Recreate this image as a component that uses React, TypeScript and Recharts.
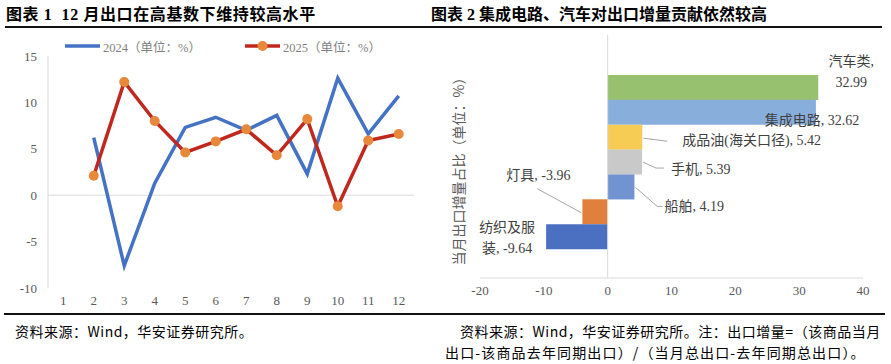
import React from 'react'
import {
  Bar,
  BarChart,
  Cell,
  LabelList,
  Line,
  LineChart,
  ReferenceLine,
  XAxis,
  YAxis,
} from 'recharts'

// left chart: monthly export growth, % yoy
const MONTHS = ['1', '2', '3', '4', '5', '6', '7', '8', '9', '10', '11', '12']
const EXPORT_2024 = [null, 6.2, -7.6, 1.3, 7.3, 8.4, 7.0, 8.6, 2.3, 12.6, 6.6, 10.7]
const EXPORT_2025 = [null, 2.1, 12.2, 8.0, 4.6, 5.8, 7.1, 4.3, 8.2, -1.2, 5.9, 6.6]
const LEFT_TICKS = [-10, -5, 0, 5, 10, 15]

// right chart: contribution to export increment, %
const GOODS = ['汽车类', '集成电路', '成品油(海关口径)', '手机', '船舶', '灯具', '纺织及服装']
const CONTRIB = [32.99, 32.62, 5.42, 5.39, 4.19, -3.96, -9.64]
const RIGHT_TICKS = [-20, -10, 0, 10, 20, 30, 40]

const GOODS_COLORS = ['#97c16f', '#88aedb', '#f6cc55', '#c9c9c9', '#7293d1', '#e0803c', '#4b6fc1']

const lineData = MONTHS.map((m, i) => ({ month: m, y2024: EXPORT_2024[i], y2025: EXPORT_2025[i] }))
const barData = GOODS.map((g, i) => ({ name: g, value: CONTRIB[i] }))

const SERIF = "'Liberation Serif', 'Noto Sans CJK SC', serif"
const CJK = "'Noto Sans CJK SC', sans-serif"
const AXIS_GREY = '#d9d9d9'
const TICK_TEXT = { fill: '#595959', fontSize: 13, fontFamily: SERIF }

// label placement relative to bar end (ex) and bar middle (cy)
type LabelSpec = {
  anchor: 'start' | 'middle' | 'end'
  dx: number
  lines: { dy: number; text: (name: string, v: string) => string }[]
  leader?: [number, number][]
}
const LABEL_SPECS: Record<string, LabelSpec> = {
  汽车类: {
    anchor: 'middle',
    dx: 33,
    lines: [
      { dy: -26, text: (n) => `${n},` },
      { dy: -5, text: (_n, v) => v },
    ],
  },
  集成电路: { anchor: 'middle', dx: -4, lines: [{ dy: 8, text: (n, v) => `${n}, ${v}` }] },
  '成品油(海关口径)': {
    anchor: 'start',
    dx: 40,
    lines: [{ dy: 3, text: (n, v) => `${n}, ${v}` }],
    leader: [[1, 1], [25, 4]],
  },
  手机: {
    anchor: 'start',
    dx: 29,
    lines: [{ dy: 7, text: (n, v) => `${n}, ${v}` }],
    leader: [[1, 0], [14, 6], [22, 6]],
  },
  船舶: {
    anchor: 'start',
    dx: 30,
    lines: [{ dy: 19.5, text: (n, v) => `${n}, ${v}` }],
    leader: [[1, 0.5], [23, 19.5], [28, 19.5]],
  },
  灯具: {
    anchor: 'middle',
    dx: -44,
    lines: [{ dy: -36, text: (n, v) => `${n}, ${v}` }],
    leader: [[-1, 1], [-45, -23]],
  },
  纺织及服装: {
    anchor: 'middle',
    dx: -39,
    lines: [
      { dy: -9, text: () => '纺织及服' },
      { dy: 12, text: (_n, v) => `装, ${v}` },
    ],
  },
}

function GoodsLabel(props: any) {
  const { x, y, width, height, index } = props
  const name = GOODS[index]
  const v = CONTRIB[index]
  const spec = LABEL_SPECS[name]
  if (!spec) return null
  const left = Math.min(x, x + width)
  const right = Math.max(x, x + width)
  const ex = v >= 0 ? right : left
  const cy = y + height / 2
  return (
    <g>
      {spec.leader && (
        <polyline
          points={spec.leader.map(([px, py]) => `${ex + px},${cy + py}`).join(' ')}
          fill="none"
          stroke="#a6a6a6"
          strokeWidth={1}
        />
      )}
      {spec.lines.map((l, i) => (
        <text
          key={i}
          x={ex + spec.dx}
          y={cy + l.dy}
          textAnchor={spec.anchor}
          dominantBaseline="central"
          fill="#404040"
          fontSize={14}
          fontFamily={SERIF}
        >
          {l.text(name, v.toFixed(2))}
        </text>
      ))}
    </g>
  )
}

function LegendItem({ left, color, dot, label }: { left: number; color: string; dot?: string; label: string }) {
  return (
    <div style={{ position: 'absolute', left, top: 37, height: 18, display: 'flex', alignItems: 'center' }}>
      <svg width={36} height={18}>
        <line x1={0} y1={9} x2={35} y2={9} stroke={color} strokeWidth={3.5} />
        {dot && <circle cx={17.5} cy={9} r={5} fill={dot} />}
      </svg>
      <span style={{ marginLeft: 2, fontSize: 12.5, color: '#7f7f7f', fontFamily: SERIF, whiteSpace: 'nowrap' }}>
        {label}
      </span>
    </div>
  )
}

const footStyle: React.CSSProperties = {
  position: 'absolute',
  fontSize: 14,
  fontFamily: CJK,
  color: '#000',
  whiteSpace: 'nowrap',
  lineHeight: '20px',
}

export default function App() {
  return (
    <div
      style={{
        position: 'absolute',
        left: 0,
        top: 0,
        width: 891,
        height: 364,
        background: '#fff',
        overflow: 'hidden',
      }}
    >
      <div
        style={{
          position: 'absolute',
          left: 6,
          top: 4,
          fontSize: 16,
          fontWeight: 700,
          fontFamily: SERIF,
          color: '#000',
          whiteSpace: 'nowrap',
          lineHeight: '22px',
          letterSpacing: 0.6,
        }}
      >
        图表 1&nbsp; 12 月出口在高基数下维持较高水平
      </div>
      <div
        style={{
          position: 'absolute',
          left: 431,
          top: 4,
          fontSize: 16,
          fontWeight: 700,
          fontFamily: SERIF,
          color: '#000',
          whiteSpace: 'nowrap',
          lineHeight: '22px',
        }}
      >
        图表 2 集成电路、汽车对出口增量贡献依然较高
      </div>
      <div style={{ position: 'absolute', left: 5, top: 26, width: 877, height: 2, background: '#111' }} />

      <div style={{ position: 'absolute', left: 0, top: 0 }}>
        <LineChart width={445} height={313} data={lineData} margin={{ top: 56, right: 31, bottom: 0, left: 0 }}>
          <XAxis
            dataKey="month"
            scale="band"
            height={25}
            axisLine={false}
            tickLine={false}
            interval={0}
            tick={TICK_TEXT}
          />
          <YAxis
            width={48}
            domain={[-10, 15]}
            ticks={LEFT_TICKS}
            axisLine={{ stroke: AXIS_GREY }}
            tickLine={false}
            tick={TICK_TEXT}
            tickMargin={5}
          />
          <ReferenceLine y={0} stroke={AXIS_GREY} strokeWidth={1} />
          <Line
            dataKey="y2024"
            stroke="#4472c4"
            strokeWidth={3.5}
            dot={false}
            isAnimationActive={false}
          />
          <Line
            dataKey="y2025"
            stroke="#c0281e"
            strokeWidth={3.5}
            dot={{ r: 5, fill: '#e8883a', stroke: 'none' }}
            isAnimationActive={false}
          />
        </LineChart>
      </div>
      <LegendItem left={65} color="#4472c4" label="2024（单位：%）" />
      <LegendItem left={245} color="#c0281e" dot="#e8883a" label="2025（单位：%）" />

      <div style={{ position: 'absolute', left: 445, top: 0 }}>
        <BarChart
          width={446}
          height={313}
          data={barData}
          layout="vertical"
          barCategoryGap={0}
          margin={{ top: 35, right: 28, bottom: 0, left: 35 }}
        >
          <XAxis
            type="number"
            domain={[-20, 40]}
            ticks={RIGHT_TICKS}
            height={35}
            axisLine={{ stroke: AXIS_GREY }}
            tickLine={false}
            tick={TICK_TEXT}
          />
          <YAxis type="category" dataKey="name" hide width={0} padding={{ top: 40, bottom: 29 }} />
          <ReferenceLine x={0} stroke={AXIS_GREY} strokeWidth={1} />
          <Bar dataKey="value" isAnimationActive={false}>
            {barData.map((d, i) => (
              <Cell key={d.name} fill={GOODS_COLORS[i]} />
            ))}
            <LabelList dataKey="value" content={GoodsLabel} />
          </Bar>
        </BarChart>
      </div>
      <div
        style={{
          position: 'absolute',
          left: 458,
          top: 168,
          transform: 'translate(-50%, -50%) rotate(-90deg)',
          fontSize: 14,
          color: '#595959',
          fontFamily: CJK,
          whiteSpace: 'nowrap',
        }}
      >
        当月出口增量占比（单位：%）
      </div>

      <div style={{ position: 'absolute', left: 4, top: 313, width: 881, height: 2, background: '#111' }} />
      <div style={{ ...footStyle, left: 15, top: 321, letterSpacing: 0.5 }}>资料来源：Wind，华安证券研究所。</div>
      <div style={{ ...footStyle, left: 460, top: 321, letterSpacing: 0.5 }}>
        资料来源：Wind，华安证券研究所。注：出口增量=（该商品当月
      </div>
      <div style={{ ...footStyle, left: 445, top: 342, letterSpacing: 1.15 }}>
        出口-该商品去年同期出口）/（当月总出口-去年同期总出口）。
      </div>
    </div>
  )
}
